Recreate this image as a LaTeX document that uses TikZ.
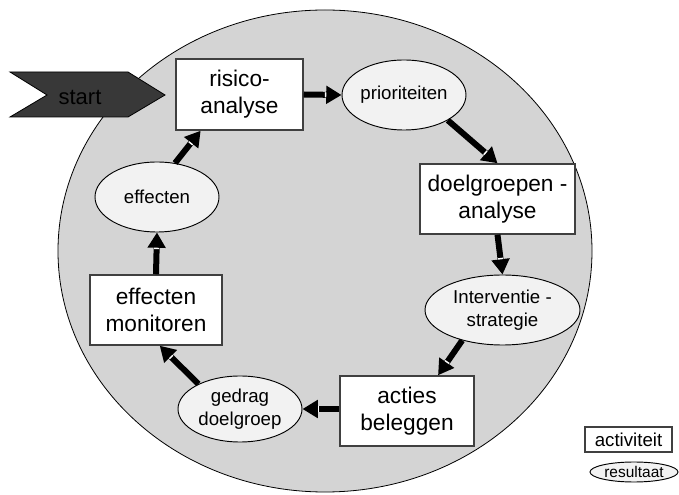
\documentclass[tikz,border=0pt]{standalone}
\usepackage{fontspec}
\setmainfont{Liberation Sans}
\usetikzlibrary{arrows.meta,calc,shapes.geometric}

% thick flow arrow with the small light notch at the base of its head
\newcommand\flowto[2]{%
  \draw[flowline] (#1) -- (#2);
  \coordinate (nb) at ($(#2)!12pt!(#1)$);
  \draw[notch] ($(nb)!1.9pt!90:(#2)$) -- ($(nb)!1.9pt!-90:(#2)$);
}

\begin{document}
\begin{tikzpicture}[x=0.75pt,y=-0.75pt,
  actbox/.style={draw=black!75, line width=1.1pt, fill=white, inner sep=0pt,
    align=center, font=\fontsize{17}{20.25}\selectfont},
  resell/.style={ellipse, draw=black, line width=0.7pt, fill=black!5, inner sep=0pt,
    align=center, font=\fontsize{14}{16.8}\selectfont},
  flowline/.style={line width=4.5pt, -{Triangle[length=11.5pt,width=13pt]}},
  notch/.style={white, line width=1.1pt},
]
\useasboundingbox (0,0) rectangle (679,495);

% cycle background
\draw[fill=black!17, line width=0.6pt] (325,251) ellipse [x radius=200.25pt, y radius=180.75pt];

% start marker
\draw[fill=black!78, line width=0.6pt] (10,72) -- (128,72) -- (165,95) -- (128,117)
  -- (10,117) -- (47,95) -- cycle;
\node[font=\fontsize{16.5}{19}\selectfont] (st) at (80,97) {start};

% activities and results
\node[actbox, minimum width=95.25pt, minimum height=53.25pt] (rA) at (239.5,94.5) {risico-\\analyse};
\node[resell, minimum width=93pt, minimum height=52.5pt] (pr) at (404,95) {prioriteiten};
\node[actbox, minimum width=116.25pt, minimum height=52.5pt] (dg) at (497.5,199) {doelgroepen -\\analyse};
\node[resell, minimum width=116.25pt, minimum height=52.5pt] (iv) at (502.5,310) {Interventie -\\strategie};
\node[actbox, minimum width=100.5pt, minimum height=52.5pt] (ab) at (407,411) {acties\\beleggen};
\node[resell, minimum width=93pt, minimum height=49.5pt] (gd) at (240,409) {gedrag\\doelgroep};
\node[actbox, minimum width=99pt, minimum height=52.5pt] (em) at (156,310) {effecten\\monitoren};
\node[resell, minimum width=93pt, minimum height=52.5pt] (ef) at (157,197) {effecten};

% flow around the cycle
\coordinate (abw) at (ab.west|-gd.east);
\flowto{rA.east}{pr.west}
\flowto{pr.-30}{dg.north}
\flowto{dg.south}{iv.north}
\flowto{iv.-143}{ab.49}
\flowto{abw}{gd.east}
\flowto{gd.149}{em.-84}
\flowto{em.north}{ef.south}
\flowto{ef.62}{rA.-137}

% legend
\node[draw=black!75, line width=0.9pt, fill=white, inner sep=0pt,
  minimum width=65.25pt, minimum height=18.75pt, font=\fontsize{14}{16}\selectfont]
  (lgA) at (628.5,439.5) {activiteit};
\node[ellipse, draw=black, line width=0.7pt, fill=black!5, inner sep=0pt,
  minimum width=66pt, minimum height=15pt, font=\fontsize{11.6}{13}\selectfont]
  (lgR) at (634,472) {resultaat};
\end{tikzpicture}
\end{document}
